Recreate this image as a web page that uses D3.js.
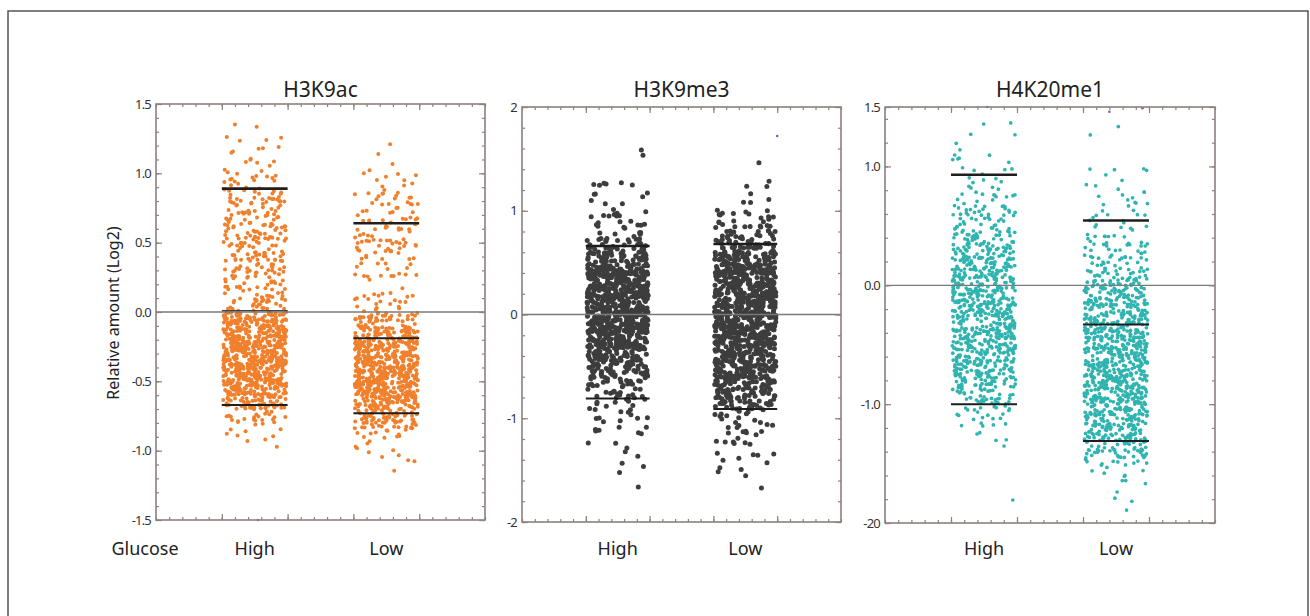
<!DOCTYPE html>
<html>
<head>
<meta charset="utf-8">
<script src="https://cdn.jsdelivr.net/npm/d3@7"></script>
<style>
body { margin: 0; background: #fff; }
text { font-family: "Noto Sans", sans-serif; }
</style>
</head>
<body>
<script>
// ---- data ----
var panelTitles = ["H3K9ac", "H3K9me3", "H4K20me1"];
var categories = ["High", "Low"];
var rowLabel = "Glucose";
var yLabel = "Relative amount (Log2)";

// point counts per 0.1 (log2) bin, listed top-down from the given top value
var binStep = 0.1;
var h3k9acHighTop = 1.4;
var h3k9acHighCounts = [2,4,6,8,14,22,28,30,32,30,28,26,24,30,80,100,110,110,110,95,60,22,8,3];
var h3k9acLowTop = 1.3;
var h3k9acLowCounts = [1,1,3,8,12,14,16,20,20,12,10,8,15,40,70,100,110,115,110,90,55,25,7,5,1];
var h3k9me3HighTop = 1.6;
var h3k9me3HighCounts = [2,0,0,6,4,4,8,10,16,26,50,65,72,75,75,75,75,75,70,62,50,36,22,14,10,8,6,5,3,2,2,1,1];
var h3k9me3LowTop = 1.5;
var h3k9me3LowCounts = [1,0,3,2,3,12,16,22,34,55,65,72,72,75,75,75,75,72,65,58,55,48,40,30,14,9,7,6,5,4,2,1];
var h4k20me1HighTop = 1.4;
var h4k20me1HighCounts = [2,2,2,6,6,8,12,18,22,30,38,45,50,55,60,62,62,62,62,60,56,50,38,28,14,9,3,2,0,0,0,0,1];
var h4k20me1LowTop = 1.4;
var h4k20me1LowCounts = [1,1,0,0,5,4,6,7,9,12,15,20,25,35,45,55,60,65,68,68,68,68,68,65,62,55,48,38,24,8,4,2,2];

// horizontal black bars (High, Low)
var h3k9acBars = [[0.89, 0.01, -0.67], [0.64, -0.19, -0.73]];
var h3k9me3Bars = [[0.66, -0.81], [0.68, -0.91]];
var h4k20me1Bars = [[0.93, -1.0], [0.545, -0.33, -1.31]];

// stray tiny marks: [x position on the 0-5 band axis, value]
var h3k9acStray = [[1.55, -1.5]];
var h3k9me3Stray = [[4.0, 1.72]];
var h4k20me1Stray = [[1.55, 1.5], [3.4, 1.46], [3.9, 1.49]];

// y tick labels
var h3k9acTicks = [1.5, 1.0, 0.5, 0.0, -0.5, -1.0, -1.5];
var h3k9acTickText = ["1.5", "1.0", "0.5", "0.0", "-0.5", "-1.0", "-1.5"];
var h3k9me3Ticks = [2, 1, 0, -1, -2];
var h3k9me3TickText = ["2", "1", "0", "-1", "-2"];
var h4k20me1Ticks = [1.5, 1.0, 0.0, -1.0, -2.0];
var h4k20me1TickText = ["1.5", "1.0", "0.0", "-1.0", "-20"];

// ---- layout ----
var W = 1310, H = 616;
var frameColor = "#8c817e";
var svg = d3.select("body").append("svg")
	.attr("width", W)
	.attr("height", H);

svg.append("rect")
	.attr("x", 8).attr("y", 11)
	.attr("width", 1300).attr("height", 640)
	.attr("fill", "none")
	.attr("stroke", "#555")
	.attr("stroke-width", 1.5);

var panels = [
	{title: panelTitles[0], x: [156, 485], y: [104, 520], dom: [-1.5, 1.5], minor: 0.1,
	 ticks: h3k9acTicks, tickText: h3k9acTickText, color: "#f0802c", r: 2,
	 groups: [{top: h3k9acHighTop, counts: h3k9acHighCounts, bars: h3k9acBars[0]},
	          {top: h3k9acLowTop, counts: h3k9acLowCounts, bars: h3k9acBars[1]}],
	 stray: h3k9acStray},
	{title: panelTitles[1], x: [522, 841], y: [107, 522], dom: [-2, 2], minor: 0.2,
	 ticks: h3k9me3Ticks, tickText: h3k9me3TickText, color: "#3d3d3d", r: 2.5,
	 groups: [{top: h3k9me3HighTop, counts: h3k9me3HighCounts, bars: h3k9me3Bars[0]},
	          {top: h3k9me3LowTop, counts: h3k9me3LowCounts, bars: h3k9me3Bars[1]}],
	 stray: h3k9me3Stray},
	{title: panelTitles[2], x: [885, 1215], y: [107, 523], dom: [-2, 1.5], minor: 0.2,
	 ticks: h4k20me1Ticks, tickText: h4k20me1TickText, color: "#2fb4b0", r: 1.85,
	 groups: [{top: h4k20me1HighTop, counts: h4k20me1HighCounts, bars: h4k20me1Bars[0]},
	          {top: h4k20me1LowTop, counts: h4k20me1LowCounts, bars: h4k20me1Bars[1]}],
	 stray: h4k20me1Stray}
];

// fixed integer mixer (murmur3 finaliser), used only to scatter points inside their bin
function jit(h)
{
	h = h >>> 0;
	h ^= h >>> 16;
	h = Math.imul(h, 0x85ebca6b);
	h ^= h >>> 13;
	h = Math.imul(h, 0xc2b2ae35);
	h ^= h >>> 16;
	return (h >>> 0) / 4294967296;
}

function spread(top, counts, seed)
{
	var pts = [], n = 0;
	counts.forEach(function(c, i) {
		for (var j = 0; j < c; j++) {
			n++;
			var k = seed * 1000003 + n * 7919;
			pts.push({u: jit(k), v: top - (i + jit(k + 104729)) * binStep});
		}
	});
	return pts;
}

function tickRow(g, axisFn, scale, vals, size)
{
	g.call(axisFn(scale).tickValues(vals).tickSize(size).tickFormat(""));
	g.select(".domain").remove();
	g.selectAll("line").attr("stroke", frameColor).attr("stroke-width", 1.2);
}

panels.forEach(function(p, pi)
{
	var x = d3.scaleLinear().domain([0, 5]).range(p.x);
	var y = d3.scaleLinear().domain(p.dom).range([p.y[1], p.y[0]]);
	var g = svg.append("g");

	// points
	p.groups.forEach(function(gr, gi) {
		var base = gi * 2 + 1;
		g.append("g").selectAll("circle")
			.data(spread(gr.top, gr.counts, pi * 2 + gi + 1))
			.enter().append("circle")
			.attr("cx", function(d) { return x(base + 0.02 + d.u * 0.96); })
			.attr("cy", function(d) { return y(d.v); })
			.attr("r", p.r)
			.attr("fill", p.color);
	});

	g.selectAll(".stray")
		.data(p.stray)
		.enter().append("circle")
		.attr("cx", function(d) { return x(d[0]); })
		.attr("cy", function(d) { return y(d[1]); })
		.attr("r", 1.3)
		.attr("fill", "#6b64c4");

	// zero line
	g.append("line")
		.attr("x1", p.x[0]).attr("x2", p.x[1])
		.attr("y1", y(0)).attr("y2", y(0))
		.attr("stroke", "#7a7a7a")
		.attr("stroke-width", 1.3);

	// black bars
	p.groups.forEach(function(gr, gi) {
		var base = gi * 2 + 1;
		g.append("g").selectAll("line")
			.data(gr.bars)
			.enter().append("line")
			.attr("x1", x(base)).attr("x2", x(base + 1))
			.attr("y1", function(d) { return y(d); })
			.attr("y2", function(d) { return y(d); })
			.attr("stroke", function(d) { return Math.abs(d) < 0.05 ? "#444" : "#1e1e1e"; })
			.attr("stroke-width", function(d, i) {
				if (Math.abs(d) < 0.05) return 1.3;
				return i == 0 ? 2.6 : 2;
			});
	});

	// frame
	g.append("rect")
		.attr("x", p.x[0]).attr("y", p.y[0])
		.attr("width", p.x[1] - p.x[0]).attr("height", p.y[1] - p.y[0])
		.attr("fill", "none")
		.attr("stroke", frameColor)
		.attr("stroke-width", 1.6);

	// inside ticks on all four sides
	var xMinor = d3.range(0, 5.001, 0.2), xMajor = [1, 2, 3, 4];
	var yMinor = d3.range(p.dom[0], p.dom[1] + 0.001, p.minor);
	tickRow(g.append("g").attr("transform", "translate(0," + p.y[0] + ")"), d3.axisTop, x, xMinor, -3);
	tickRow(g.append("g").attr("transform", "translate(0," + p.y[0] + ")"), d3.axisTop, x, xMajor, -6);
	tickRow(g.append("g").attr("transform", "translate(0," + p.y[1] + ")"), d3.axisBottom, x, xMinor, -3);
	tickRow(g.append("g").attr("transform", "translate(0," + p.y[1] + ")"), d3.axisBottom, x, xMajor, -6);
	tickRow(g.append("g").attr("transform", "translate(" + p.x[0] + ",0)"), d3.axisLeft, y, yMinor, -3);
	tickRow(g.append("g").attr("transform", "translate(" + p.x[0] + ",0)"), d3.axisLeft, y, p.ticks, -6);
	tickRow(g.append("g").attr("transform", "translate(" + p.x[1] + ",0)"), d3.axisRight, y, yMinor, -3);
	tickRow(g.append("g").attr("transform", "translate(" + p.x[1] + ",0)"), d3.axisRight, y, p.ticks, -6);

	// tick labels
	var lab = g.append("g").attr("transform", "translate(" + p.x[0] + ",0)")
		.call(d3.axisLeft(y).tickValues(p.ticks).tickSize(0).tickPadding(5)
			.tickFormat(function(d, i) { return p.tickText[i]; }));
	lab.select(".domain").remove();
	lab.selectAll("text")
		.attr("fill", "#333")
		.style("font-size", "13px")
		.style("letter-spacing", "-0.8px")
		.style("font-family", "'Noto Sans', sans-serif");

	// title
	g.append("text")
		.attr("x", (p.x[0] + p.x[1]) / 2)
		.attr("y", 97)
		.attr("text-anchor", "middle")
		.attr("fill", "#222")
		.style("font-size", "21px")
		.text(p.title);

	// category labels
	g.selectAll(".cat")
		.data(categories)
		.enter().append("text")
		.attr("x", function(d, i) { return x(i * 2 + 1.5); })
		.attr("y", 555)
		.attr("text-anchor", "middle")
		.attr("fill", "#222")
		.style("font-size", "18px")
		.text(function(d) { return d; });
});

svg.append("text")
	.attr("x", 145).attr("y", 555)
	.attr("text-anchor", "middle")
	.attr("fill", "#222")
	.style("font-size", "18px")
	.text(rowLabel);

svg.append("text")
	.attr("transform", "translate(119,313) rotate(-90)")
	.attr("text-anchor", "middle")
	.attr("fill", "#222")
	.style("font-size", "16px")
	.text(yLabel);
</script>
</body>
</html>
